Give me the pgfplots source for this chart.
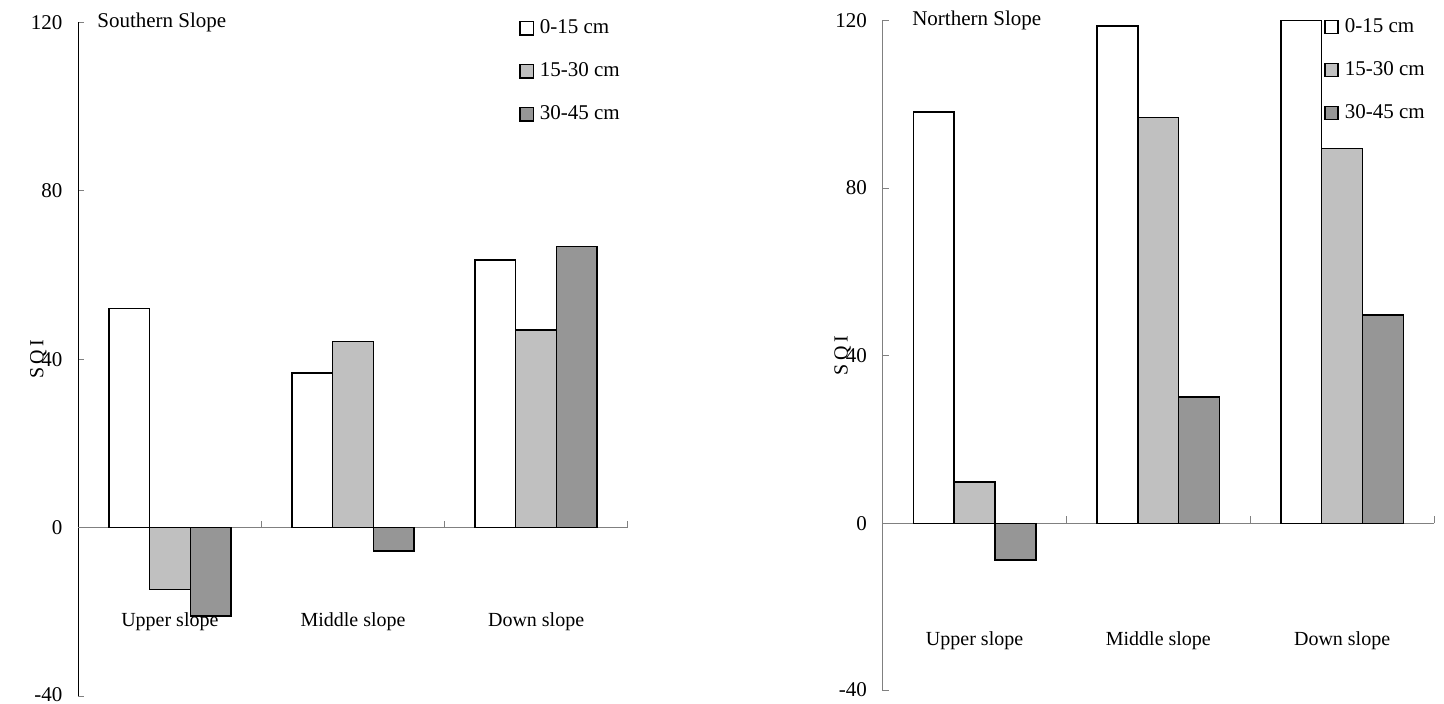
\documentclass[border=0pt]{standalone}
\usepackage{fontspec}
\setmainfont{Liberation Serif}
\usepackage{pgfplots}
\pgfplotsset{compat=1.18}
\definecolor{lg}{HTML}{C0C0C0}
\definecolor{dg}{HTML}{969696}
\definecolor{ax}{HTML}{808080}
\newcommand{\fsz}{\fontsize{10.5pt}{12pt}\selectfont}
\pgfplotsset{
  slopeaxis/.style={
    scale only axis,
    anchor=south west,
    xmin=-0.5, xmax=2.5,
    ymin=-40, ymax=120,
    axis x line=none,
    axis y line=left,
    y axis line style={-, line width=0.5pt},
    ytick={-40,0,40,80,120},
    yticklabels={\raisebox{1.5pt}{-40},0,40,80,120},
    tick align=inside,
    major tick length=3pt,
    ytick style={line width=0.5pt},
    yticklabel style={xshift=-4.4pt, font=\fsz},
    ylabel={S\,Q\,I},
    clip=false,
    legend style={draw=none, fill=none, inner sep=0pt, row sep=9pt, column sep=1pt,
      anchor=north west, nodes={inner sep=2pt}, font=\fsz},
    legend cell align=left,
  },
  sqbar/.style={ybar, bar width=0.2222, draw=black, line width=0.7pt, forget plot},
}
\newcommand{\legsq}[1]{\addlegendimage{legend image code/.code={\draw[fill=#1,draw=black,line width=0.7pt] (0pt,-3.3pt) rectangle (6.6pt,3.3pt);}}}
\newcommand{\baseticks}{%
\draw[ax, line width=0.5pt] (axis cs:-0.5,0) -- (axis cs:2.5,0);
\draw[ax, line width=0.5pt] (axis cs:0.5,0) -- ++(0pt,3.5pt);
\draw[ax, line width=0.5pt] (axis cs:1.5,0) -- ++(0pt,3.5pt);
\draw[ax, line width=0.5pt] (axis cs:2.5,0) -- ++(0pt,3.5pt);}
\begin{document}
\begin{tikzpicture}
\useasboundingbox (0,0) rectangle (722pt,352pt);
% ---------- Southern slope ----------
\begin{axis}[slopeaxis, at={(39.15pt,3.9pt)}, width=274.7pt, height=336.95pt,
  ylabel style={at={(axis description cs:0,0.5)}, anchor=center, yshift=20pt},
  legend style={at={(axis description cs:0.802,1)}, yshift=3.4pt}]
\baseticks
\legsq{white}
\legsq{lg}
\legsq{dg}
\addplot[sqbar, fill=white, bar shift=-0.2222] coordinates {(0,52.1) (1,36.7) (2,63.6)};
\addplot[sqbar, fill=lg, bar shift=0] coordinates {(0,-14.7) (1,44.2) (2,46.9)};
\addplot[sqbar, fill=dg, bar shift=0.2222] coordinates {(0,-21.0) (1,-5.5) (2,66.7)};
\legend{0-15 cm, 15-30 cm, 30-45 cm}
\node[anchor=west, inner sep=0pt, font=\fsz] at (axis description cs:0.034,1.0) {Southern Slope};
\node at (axis cs:0,-22.4) {Upper slope};
\node at (axis cs:1,-22.4) {Middle slope};
\node at (axis cs:2,-22.4) {Down slope};
\end{axis}
% ---------- Northern slope ----------
\begin{axis}[slopeaxis, at={(441.35pt,6.55pt)}, width=275.65pt, height=335.2pt,
  y axis line style={ax}, ytick style={ax},
  ylabel style={at={(axis description cs:0,0.5)}, anchor=center, yshift=20pt},
  legend style={at={(axis description cs:0.800,1)}, yshift=3.2pt}]
\baseticks
\legsq{white}
\legsq{lg}
\legsq{dg}
\addplot[sqbar, fill=white, bar shift=-0.2222] coordinates {(0,98.2) (1,118.7) (2,120.0)};
\addplot[sqbar, fill=lg, bar shift=0] coordinates {(0,9.9) (1,96.8) (2,89.5)};
\addplot[sqbar, fill=dg, bar shift=0.2222] coordinates {(0,-8.8) (1,30.1) (2,49.7)};
\legend{0-15 cm, 15-30 cm, 30-45 cm}
\node[anchor=west, inner sep=0pt, font=\fsz] at (axis description cs:0.053,1.0) {Northern Slope};
\node at (axis cs:0,-27.9) {Upper slope};
\node at (axis cs:1,-27.9) {Middle slope};
\node at (axis cs:2,-27.9) {Down slope};
\end{axis}
\end{tikzpicture}
\end{document}
